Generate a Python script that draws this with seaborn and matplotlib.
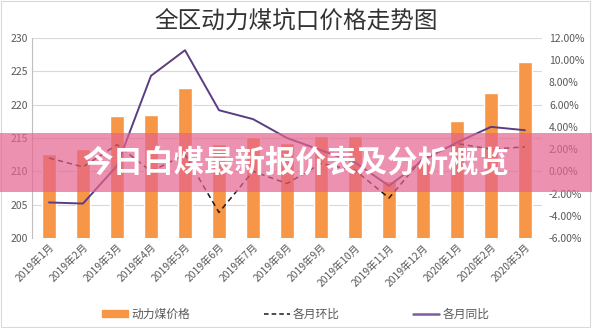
import numpy as np
import pandas as pd
import matplotlib
matplotlib.use("Agg")
import matplotlib.pyplot as plt
from matplotlib.patches import Rectangle, Patch
from matplotlib.lines import Line2D
from matplotlib.ticker import FuncFormatter
import seaborn as sns

months = ["2019年1月", "2019年2月", "2019年3月", "2019年4月", "2019年5月",
          "2019年6月", "2019年7月", "2019年8月", "2019年9月", "2019年10月",
          "2019年11月", "2019年12月", "2020年1月", "2020年2月", "2020年3月"]
price = [212.6, 213.4, 218.3, 218.5, 222.5, 214.1, 215.2, 214.2, 215.3, 215.3,
         208.6, 211.5, 217.6, 221.8, 226.4]
mom = [1.2, 0.4, 2.4, 0.0, 1.5, -3.7, 0.0, -1.1, 0.7, 0.1,
       -2.4, 1.2, 2.5, 2.0, 2.2]
yoy = [-2.8, -2.9, 0.5, 8.6, 10.9, 5.5, 4.7, 3.0, 1.9, 0.8,
       -1.3, 1.0, 2.6, 4.0, 3.7]

df = pd.DataFrame({"month": months, "price": price, "mom": mom, "yoy": yoy})
df["pos"] = np.arange(len(df))

BAR = "#f79646"
PURPLE = "#5b3d82"
GRID = "#d9d9d9"
TXT = "#595959"

sns.set_theme(style="white")
plt.rcParams["font.family"] = ["Noto Sans CJK SC", "DejaVu Sans"]

fig = plt.figure(figsize=(5.92, 3.28), dpi=100)
ax = fig.add_axes([32 / 592, 1 - 238 / 328, 510 / 592, 200 / 328])

sns.barplot(data=df, x="month", y="price", color=BAR, width=0.41,
            saturation=1, ax=ax, zorder=2)
ax.set_ylim(200, 230)
ax.set_yticks(np.arange(200, 231, 5))
ax.set_xlim(-0.5, len(df) - 0.5)
ax.grid(axis="y", color=GRID, linewidth=0.8, zorder=0)
ax.set_axisbelow(True)
ax.set_xlabel("")
ax.set_ylabel("")
for s in ["top", "right", "bottom"]:
    ax.spines[s].set_visible(False)
ax.spines["left"].set_color("#bfbfbf")
ax.spines["left"].set_linewidth(0.8)
ax.tick_params(axis="y", labelsize=7.5, colors=TXT, length=0, pad=3)
ax.tick_params(axis="x", labelsize=7.4, colors=TXT, length=0, pad=3)
plt.setp(ax.get_xticklabels(), rotation=45, ha="right", rotation_mode="anchor")

ax2 = ax.twinx()
sns.lineplot(data=df, x="pos", y="mom", ax=ax2, color="#1a1a1a",
             linewidth=1.1, linestyle=(0, (3.5, 2.5)), zorder=3)
sns.lineplot(data=df, x="pos", y="yoy", ax=ax2, color=PURPLE,
             linewidth=1.4, zorder=4)
ax2.set_ylim(-6, 12)
ax2.set_yticks(np.arange(-6, 12.1, 2))
ax2.yaxis.set_major_formatter(FuncFormatter(lambda v, _: f"{v:.2f}%"))
ax2.set_xlabel("")
ax2.set_ylabel("")
for s in ["top", "right", "bottom", "left"]:
    ax2.spines[s].set_visible(False)
ax2.tick_params(axis="y", labelsize=7.5, colors=TXT, length=0, pad=5)
ax2.set_xlim(-0.5, len(df) - 0.5)

fig.text(0.5, 0.935, "全区动力煤坑口价格走势图", ha="center", va="center",
         fontsize=17, color="#333333")

handles = [
    Patch(facecolor=BAR, edgecolor=BAR),
    Line2D([0], [0], color="#1a1a1a", linewidth=1.1, linestyle=(0, (3, 2))),
    Line2D([0], [0], color="#7e5a9b", linewidth=1.8),
]
fig.legend(handles, ["动力煤价格", "各月环比", "各月同比"], loc="center",
           bbox_to_anchor=(0.5, 1 - 314 / 328), ncol=3, frameon=False,
           fontsize=8.5, handlelength=2.2, handleheight=0.6,
           columnspacing=6.2, handletextpad=0.3, labelcolor=TXT)

# outer chart frame
fig.patches.append(Rectangle((0.002, 0.003), 0.995, 0.993, transform=fig.transFigure,
                             fill=False, edgecolor="#d9d9d9", linewidth=0.8))

# banner across the middle
fig.patches.append(Rectangle((0, 1 - 192 / 328), 1, 59 / 328, transform=fig.transFigure,
                             facecolor=(229 / 255, 99 / 255, 141 / 255), alpha=0.7,
                             edgecolor="none", zorder=10))
fig.text(0.5, 1 - 163 / 328, "今日白煤最新报价表及分析概览", ha="center", va="center",
         fontsize=22, fontweight="bold", color="white", zorder=11)

fig.savefig("out.png", dpi=100)
